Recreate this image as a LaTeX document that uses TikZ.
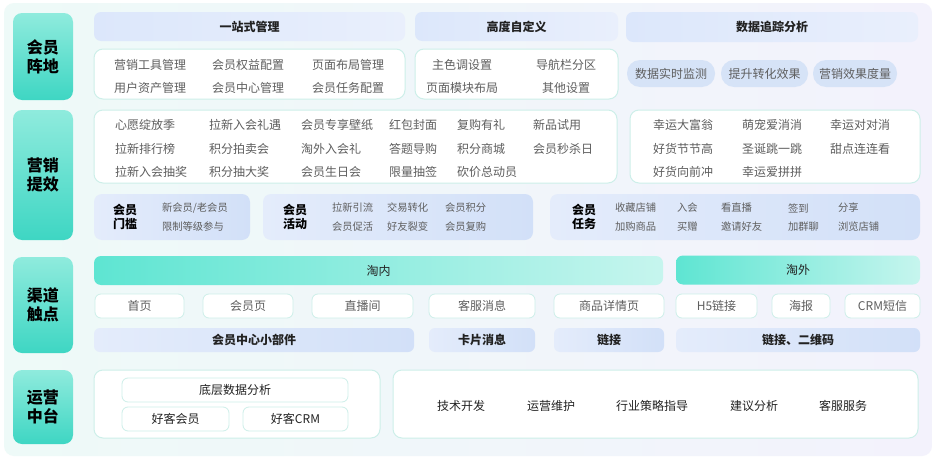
\documentclass[tikz,border=0pt]{standalone}
\usepackage{fontspec}
\setmainfont{Noto Sans CJK SC}
\usetikzlibrary{positioning}
\definecolor{tealA}{HTML}{8FEBDD}
\definecolor{tealB}{HTML}{3ED6C3}
\definecolor{barL}{HTML}{5EE5D2}
\definecolor{barR}{HTML}{C6F5EE}
\definecolor{hdrL}{HTML}{DCE7FB}
\definecolor{hdrR}{HTML}{E9EFFC}
\definecolor{subL}{HTML}{E4ECFB}
\definecolor{subR}{HTML}{D2E0F8}
\definecolor{pill}{HTML}{D6E3F7}
\definecolor{mint}{HTML}{CDEFE9}
\definecolor{txt}{HTML}{5E5E5E}
\definecolor{dark}{HTML}{222222}
\definecolor{bgL}{HTML}{EEFAF8}
\definecolor{bgR}{HTML}{F3F2FC}
\tikzset{
  base/.style={inner sep=0pt, outer sep=0pt, align=center},
  lab/.style={base, rounded corners=9pt, top color=tealA, bottom color=tealB,
    font=\bfseries\fontsize{16}{19}\selectfont, text=black},
  hdr/.style={base, rounded corners=7pt, left color=hdrL, right color=hdrR,
    font=\bfseries\fontsize{12}{14}\selectfont, text=dark},
  card/.style={base, rounded corners=9pt, fill=white, draw=mint, line width=1pt},
  pillbox/.style={base, rounded corners=13pt, fill=pill, text=txt,
    font=\fontsize{12}{14}\selectfont},
  sub/.style={base, rounded corners=8pt, left color=subL, right color=subR},
  tbar/.style={base, rounded corners=7pt, left color=barL, right color=barR,
    font=\fontsize{12}{14}\selectfont, text=dark},
  wbox/.style={base, rounded corners=6pt, fill=white, draw=mint, line width=0.8pt,
    font=\fontsize{12}{14}\selectfont, text=txt},
  bbar/.style={base, rounded corners=6pt, left color=subL, right color=subR,
    font=\bfseries\fontsize{12}{14}\selectfont, text=dark},
  item/.style={base, font=\fontsize{12}{14}\selectfont, text=txt},
  itemw/.style={item, anchor=west},
  sitem/.style={base, anchor=west, font=\fontsize{10.3}{12}\selectfont, text=txt},
  slab/.style={base, font=\bfseries\fontsize{12}{14}\selectfont, text=black},
  ditem/.style={base, font=\fontsize{12}{14}\selectfont, text=dark},
}
\begin{document}
\begin{tikzpicture}[x=1pt,y=-1pt]
\useasboundingbox (0,0) rectangle (938,463);
\fill[white] (0,0) rectangle (938,463);
\shade[left color=bgL, right color=bgR, rounded corners=10pt] (4,3) rectangle (932,456);

% ---------- Row 1: 会员阵地 ----------
\node[lab, minimum width=60pt, minimum height=87pt] (lab1) at (43,56.5) {会员\\阵地};
\node[hdr, minimum width=311pt, minimum height=29pt] (h1) at (249.5,26.5) {一站式管理};
\node[card, minimum width=311pt, minimum height=50pt] (c1) at (249.5,74) {};
\node[item] (t11) at (150,65) {营销工具管理};
\node[item] (t12) at (248,65) {会员权益配置};
\node[item] (t13) at (348,65) {页面布局管理};
\node[item] (t14) at (150,88) {用户资产管理};
\node[item] (t15) at (248,88) {会员中心管理};
\node[item] (t16) at (348,88) {会员任务配置};

\node[hdr, minimum width=203pt, minimum height=29pt] (h2) at (516.5,26.5) {高度自定义};
\node[card, minimum width=203pt, minimum height=50pt] (c2) at (516.5,74) {};
\node[item] (t21) at (462,65) {主色调设置};
\node[item] (t22) at (566,65) {导航栏分区};
\node[item] (t23) at (462,88) {页面模块布局};
\node[item] (t24) at (566,88) {其他设置};

\node[hdr, minimum width=292pt, minimum height=30pt] (h3) at (772,27) {数据追踪分析};
\node[pillbox, minimum width=88pt, minimum height=27pt] (p1) at (671,73.5) {数据实时监测};
\node[pillbox, minimum width=87pt, minimum height=27pt] (p2) at (764.5,73.5) {提升转化效果};
\node[pillbox, minimum width=84pt, minimum height=27pt] (p3) at (855,73.5) {营销效果度量};

% ---------- Row 2: 营销提效 ----------
\node[lab, minimum width=60pt, minimum height=130pt] (lab2) at (43,175) {营销\\提效};
\node[card, minimum width=523pt, minimum height=73pt] (c3) at (355.5,146.5) {};
\node[itemw] (m11) at (115,125) {心愿绽放季};
\node[itemw] (m12) at (209,125) {拉新入会礼遇};
\node[itemw] (m13) at (301,125) {会员专享壁纸};
\node[itemw] (m14) at (389,125) {红包封面};
\node[itemw] (m15) at (457,125) {复购有礼};
\node[itemw] (m16) at (533,125) {新品试用};
\node[itemw] (m21) at (115,149) {拉新排行榜};
\node[itemw] (m22) at (209,149) {积分拍卖会};
\node[itemw] (m23) at (301,149) {淘外入会礼};
\node[itemw] (m24) at (389,149) {答题导购};
\node[itemw] (m25) at (457,149) {积分商城};
\node[itemw] (m26) at (533,149) {会员秒杀日};
\node[itemw] (m31) at (115,172) {拉新入会抽奖};
\node[itemw] (m32) at (209,172) {积分抽大奖};
\node[itemw] (m33) at (301,172) {会员生日会};
\node[itemw] (m34) at (389,172) {限量抽签};
\node[itemw] (m35) at (457,172) {砍价总动员};

\node[card, minimum width=290pt, minimum height=73pt] (c4) at (775,146.5) {};
\node[itemw] (g11) at (653,125) {幸运大富翁};
\node[itemw] (g12) at (742,125) {萌宠爱消消};
\node[itemw] (g13) at (830,125) {幸运对对消};
\node[itemw] (g21) at (653,149) {好货节节高};
\node[itemw] (g22) at (742,149) {圣诞跳一跳};
\node[itemw] (g23) at (830,149) {甜点连连看};
\node[itemw] (g31) at (653,172) {好货向前冲};
\node[itemw] (g32) at (742,172) {幸运爱拼拼};

\node[sub, minimum width=156pt, minimum height=46pt] (s1) at (172,217) {};
\node[slab] (s1l) at (125,217) {会员\\门槛};
\node[sitem] (s1a) at (162,208) {新会员/老会员};
\node[sitem] (s1b) at (162,227) {限制等级参与};

\node[sub, minimum width=270pt, minimum height=46pt] (s2) at (398,217) {};
\node[slab] (s2l) at (295,217) {会员\\活动};
\node[sitem] (s2a) at (332,208) {拉新引流};
\node[sitem] (s2b) at (387,208) {交易转化};
\node[sitem] (s2c) at (445,208) {会员积分};
\node[sitem] (s2d) at (332,227) {会员促活};
\node[sitem] (s2e) at (387,227) {好友裂变};
\node[sitem] (s2f) at (445,227) {会员复购};

\node[sub, minimum width=370pt, minimum height=46pt] (s3) at (735,217) {};
\node[slab] (s3l) at (584,217) {会员\\任务};
\node[sitem] (s3a) at (615,208) {收藏店铺};
\node[sitem] (s3b) at (677,208) {入会};
\node[sitem] (s3c) at (721,208) {看直播};
\node[sitem] (s3d) at (788,208) {签到};
\node[sitem] (s3e) at (838,208) {分享};
\node[sitem] (s3f) at (615,227) {加购商品};
\node[sitem] (s3g) at (677,227) {买赠};
\node[sitem] (s3h) at (721,227) {邀请好友};
\node[sitem] (s3i) at (788,227) {加群聊};
\node[sitem] (s3j) at (838,227) {浏览店铺};

% ---------- Row 3: 渠道触点 ----------
\node[lab, minimum width=60pt, minimum height=96pt] (lab3) at (43,305) {渠道\\触点};
\node[tbar, minimum width=569pt, minimum height=29pt] (tn) at (378.5,270.5) {淘内};
\node[tbar, minimum width=244pt, minimum height=29pt] (tw) at (798,270) {淘外};

\node[wbox, minimum width=89pt, minimum height=24pt] (w1) at (139.5,306) {首页};
\node[wbox, minimum width=90pt, minimum height=24pt] (w2) at (248,306) {会员页};
\node[wbox, minimum width=101pt, minimum height=24pt] (w3) at (362.5,306) {直播间};
\node[wbox, minimum width=106pt, minimum height=24pt] (w4) at (482,306) {客服消息};
\node[wbox, minimum width=110pt, minimum height=24pt] (w5) at (609,306) {商品详情页};
\node[wbox, minimum width=81pt, minimum height=24pt] (w6) at (716.5,306) {H5链接};
\node[wbox, minimum width=58pt, minimum height=24pt] (w7) at (801,306) {海报};
\node[wbox, minimum width=75pt, minimum height=24pt] (w8) at (882.5,306) {CRM短信};

\node[bbar, minimum width=320pt, minimum height=24pt] (b1) at (254,340) {会员中心小部件};
\node[bbar, minimum width=106pt, minimum height=24pt] (b2) at (482,340) {卡片消息};
\node[bbar, minimum width=110pt, minimum height=24pt] (b3) at (609,340) {链接};
\node[bbar, minimum width=244pt, minimum height=24pt] (b4) at (798,340) {链接、二维码};

% ---------- Row 4: 运营中台 ----------
\node[lab, minimum width=60pt, minimum height=74pt] (lab4) at (43,407) {运营\\中台};
\node[card, minimum width=286pt, minimum height=68pt] (c5) at (237,404) {};
\node[wbox, text=dark, minimum width=226pt, minimum height=24pt] (d1) at (235,390) {底层数据分析};
\node[wbox, text=dark, minimum width=107pt, minimum height=24pt] (d2) at (175.5,419) {好客会员};
\node[wbox, text=dark, minimum width=105pt, minimum height=24pt] (d3) at (295.5,419) {好客CRM};

\node[card, minimum width=525pt, minimum height=68pt] (c6) at (655.5,404) {};
\node[ditem] (e1) at (461,406) {技术开发};
\node[ditem] (e2) at (551,406) {运营维护};
\node[ditem] (e3) at (652,406) {行业策略指导};
\node[ditem] (e4) at (754,406) {建议分析};
\node[ditem] (e5) at (843,406) {客服服务};
\end{tikzpicture}
\end{document}
